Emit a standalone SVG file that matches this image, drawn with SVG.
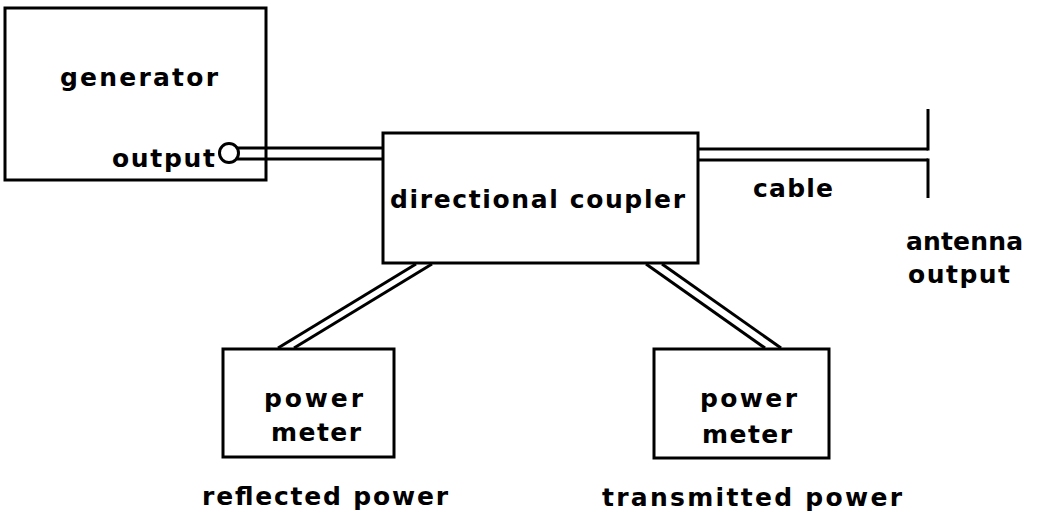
<svg xmlns="http://www.w3.org/2000/svg" width="1037" height="517" viewBox="0 0 1037 517">
<style>
.box{fill:#fff;stroke:#000;stroke-width:3}
.ln{stroke:#000;stroke-width:3;fill:none}
text{font-family:"DejaVu Sans","Liberation Sans",sans-serif;font-weight:bold;font-size:25px;fill:#000}
</style>
<rect width="1037" height="517" fill="#fff"/>
<g id="generator">
<rect class="box" x="5" y="8" width="261" height="172"/>
<text x="60" y="86" textLength="158" lengthAdjust="spacing">generator</text>
<text x="112" y="167" textLength="103" lengthAdjust="spacing">output</text>
<circle class="box" cx="229" cy="153" r="9.5"/>
</g>
<g id="coupler">
<rect class="box" x="383" y="133" width="315" height="130"/>
<text x="390" y="208" textLength="295" lengthAdjust="spacing">directional coupler</text>
</g>
<g id="antenna">
<text x="753" y="197" textLength="80" lengthAdjust="spacing">cable</text>
<text x="906" y="250" textLength="117" lengthAdjust="spacing">antenna</text>
<text x="908" y="283" textLength="102" lengthAdjust="spacing">output</text>
</g>
<g id="meter-reflected">
<rect class="box" x="223" y="349" width="171" height="108"/>
<text x="264" y="407" textLength="99" lengthAdjust="spacing">power</text>
<text x="271" y="441" textLength="90" lengthAdjust="spacing">meter</text>
<text x="202" y="505" textLength="246" lengthAdjust="spacing">reflected power</text>
</g>
<g id="meter-transmitted">
<rect class="box" x="654" y="349" width="175" height="109"/>
<text x="700" y="407" textLength="97" lengthAdjust="spacing">power</text>
<text x="702" y="443" textLength="90" lengthAdjust="spacing">meter</text>
<text x="602" y="506" textLength="300" lengthAdjust="spacing">transmitted power</text>
</g>
<g id="connectors">
<line class="ln" x1="237" y1="148" x2="384" y2="148"/>
<line class="ln" x1="237" y1="159" x2="384" y2="159"/>
<line class="ln" x1="698" y1="149" x2="928" y2="149"/>
<line class="ln" x1="698" y1="160" x2="928" y2="160"/>
<line class="ln" x1="928" y1="109" x2="928" y2="150.5"/>
<line class="ln" x1="928" y1="158.5" x2="928" y2="198"/>
<line class="ln" x1="416" y1="264" x2="278" y2="348"/>
<line class="ln" x1="432" y1="264" x2="294" y2="348"/>
<line class="ln" x1="646" y1="264" x2="765" y2="348"/>
<line class="ln" x1="662" y1="264" x2="781" y2="348"/>
</g>
</svg>
